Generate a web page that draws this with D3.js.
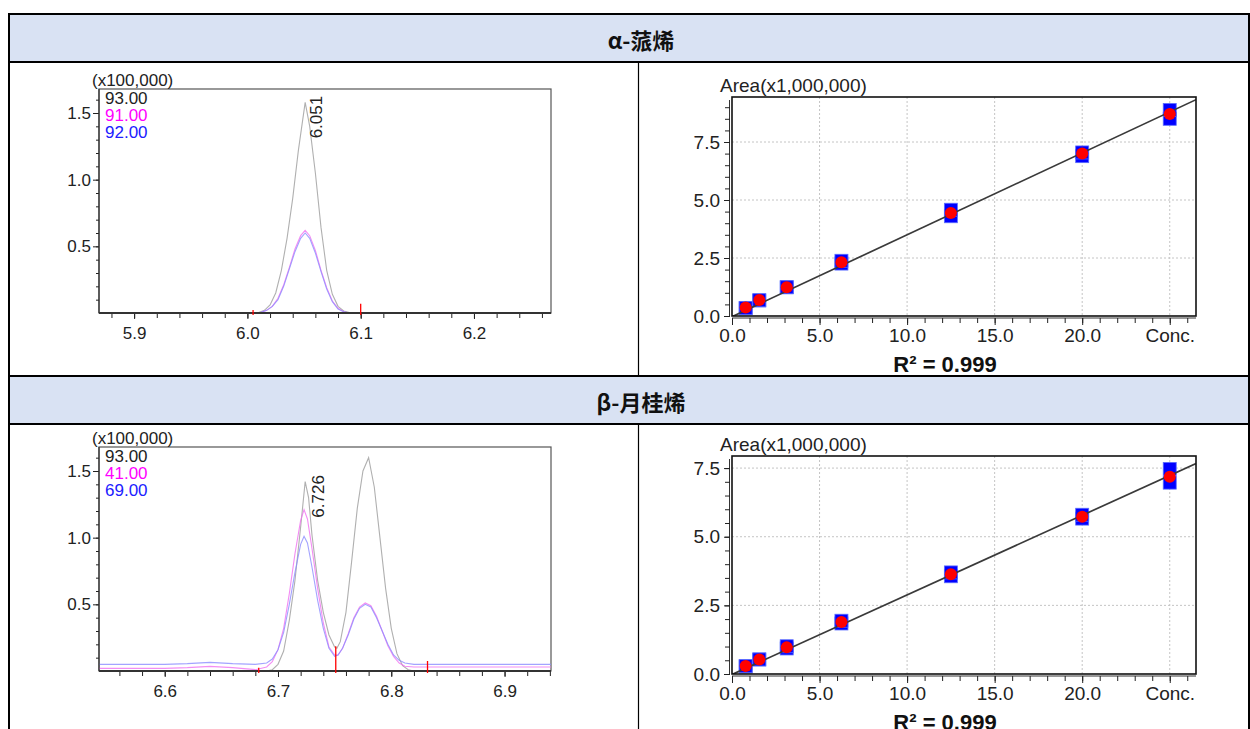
<!DOCTYPE html>
<html>
<head>
<meta charset="utf-8">
<script src="https://cdn.jsdelivr.net/npm/d3@7"></script>
<style>
  body { margin: 0; background: #fff; }
  svg { display: block; font-family: "Liberation Sans", Arial, sans-serif; }
</style>
</head>
<body>
<svg id="chart" width="1250" height="729"></svg>
<script>
// compound titles
const titles = ["α-蒎烯", "β-月桂烯"];

// chromatogram traces, [retention time, intensity x100,000]
const chrom1Ion93 = [[5.869,0],[6.000,0],[6.010,0.004],[6.015,0.02],[6.020,0.06],[6.025,0.15],[6.030,0.32],[6.035,0.56],[6.040,0.86],[6.045,1.22],[6.051,1.58],[6.055,1.40],[6.060,1.05],[6.065,0.64],[6.070,0.32],[6.075,0.14],[6.080,0.05],[6.085,0.015],[6.090,0.003],[6.100,0],[6.268,0]];
const chrom1Ion91 = [[5.869,0],[6.005,0],[6.012,0.005],[6.017,0.02],[6.022,0.05],[6.027,0.11],[6.032,0.21],[6.037,0.34],[6.042,0.48],[6.047,0.58],[6.051,0.62],[6.055,0.58],[6.060,0.47],[6.065,0.32],[6.070,0.19],[6.075,0.09],[6.080,0.035],[6.085,0.01],[6.090,0],[6.268,0]];
const chrom1Ion92 = [[5.869,0],[6.005,0],[6.012,0.005],[6.017,0.02],[6.022,0.05],[6.027,0.10],[6.032,0.20],[6.037,0.33],[6.042,0.46],[6.047,0.56],[6.051,0.60],[6.055,0.56],[6.060,0.45],[6.065,0.31],[6.070,0.18],[6.075,0.085],[6.080,0.03],[6.085,0.01],[6.090,0],[6.268,0]];
const chrom1Marks = [[6.005,0.008],[6.100,0.055]];

const chrom2Ion93 = [[6.542,0],[6.690,0],[6.695,0.01],[6.700,0.05],[6.705,0.15],[6.710,0.38],[6.715,0.68],[6.720,1.08],[6.724,1.42],[6.727,1.30],[6.730,1.02],[6.735,0.68],[6.740,0.44],[6.745,0.27],[6.750,0.18],[6.752,0.17],[6.755,0.22],[6.760,0.44],[6.765,0.82],[6.770,1.22],[6.775,1.50],[6.780,1.60],[6.785,1.38],[6.790,1.00],[6.795,0.62],[6.800,0.32],[6.805,0.13],[6.810,0.04],[6.815,0.01],[6.820,0],[6.941,0]];
const chrom2Ion41 = [[6.542,0.02],[6.600,0.02],[6.620,0.025],[6.640,0.035],[6.660,0.025],[6.680,0.01],[6.690,0.03],[6.695,0.07],[6.700,0.16],[6.705,0.32],[6.710,0.58],[6.715,0.88],[6.720,1.13],[6.723,1.21],[6.726,1.14],[6.730,0.92],[6.735,0.62],[6.740,0.36],[6.745,0.18],[6.750,0.12],[6.753,0.12],[6.757,0.17],[6.762,0.28],[6.767,0.40],[6.772,0.48],[6.777,0.51],[6.782,0.49],[6.787,0.41],[6.792,0.30],[6.797,0.19],[6.802,0.11],[6.807,0.06],[6.812,0.035],[6.820,0.03],[6.941,0.03]];
const chrom2Ion69 = [[6.542,0.05],[6.600,0.05],[6.620,0.055],[6.640,0.065],[6.660,0.055],[6.680,0.05],[6.690,0.06],[6.695,0.09],[6.700,0.16],[6.705,0.29],[6.710,0.50],[6.715,0.74],[6.720,0.95],[6.723,1.01],[6.726,0.96],[6.730,0.78],[6.735,0.53],[6.740,0.32],[6.745,0.17],[6.750,0.11],[6.753,0.12],[6.757,0.17],[6.762,0.27],[6.767,0.39],[6.772,0.47],[6.777,0.50],[6.782,0.48],[6.787,0.40],[6.792,0.30],[6.797,0.20],[6.802,0.12],[6.807,0.08],[6.812,0.06],[6.820,0.05],[6.941,0.05]];
const chrom2Marks = [[6.683,0.01],[6.751,0.17],[6.832,0.06]];

const chromYDomain = [0, 1.68];
const chromYTicks = [0.5, 1.0, 1.5];
const chrom1XDomain = [5.869, 6.268];
const chrom1XTicks = [5.9, 6.0, 6.1, 6.2];
const chrom2XDomain = [6.542, 6.941];
const chrom2XTicks = [6.6, 6.7, 6.8, 6.9];
const ions1 = ["93.00", "91.00", "92.00"];
const ions2 = ["93.00", "41.00", "69.00"];
const peaks1 = [6.051];
const peaks2 = [6.726];
const peakHeights1 = [1.58];
const peakHeights2 = [1.42];

// calibration curves (Area x1,000,000 vs Conc.)
const calConc = [0.78, 1.56, 3.125, 6.25, 12.5, 20, 25];
const cal1Mean = [0.37, 0.69, 1.24, 2.32, 4.44, 7.00, 8.71];
const cal1Reps = [[0.33,0.35],[0.67,0.68],[1.24,1.24],[2.26,2.38],[4.30,4.58],[6.89,7.05],[8.50,8.88]];
const cal2Mean = [0.29, 0.53, 0.97, 1.89, 3.63, 5.73, 7.18];
const cal2Reps = [[0.27,0.29],[0.53,0.53],[0.93,1.01],[1.84,1.94],[3.56,3.70],[5.66,5.80],[6.97,7.47]];
const cal1Fit = { slope: 0.353, intercept: -0.03, r2: "0.999" };
const cal2Fit = { slope: 0.290, intercept: -0.02, r2: "0.999" };
const calXDomain = [0, 26.5];
const calXTicks = [0, 5, 10, 15, 20, 25];
const calXLabels = ["0.0", "5.0", "10.0", "15.0", "20.0", "Conc."];
const cal1YDomain = [0, 9.44];
const cal1YTicks = [0, 2.5, 5.0, 7.5];
const cal2YDomain = [0, 7.94];
const cal2YTicks = [0, 2.5, 5.0, 7.5];

const ionColors = ["#222", "#ff00ff", "#2020ff"];
const traceColors = ["#b0b0b0", "#f070f0", "#8c8cff"];

const svg = d3.select("#chart");
svg.append("rect").attr("width", 1250).attr("height", 729).attr("fill", "#fff");

// ---- table frame ----
const headerRows = [{ y: 14, h: 48 }, { y: 376, h: 48 }];
headerRows.forEach((r, i) => {
  svg.append("rect").attr("x", 9).attr("y", r.y).attr("width", 1241).attr("height", r.h).attr("fill", "#d9e2f3");
  svg.append("text").attr("x", 641).attr("y", r.y + 25)
    .attr("text-anchor", "middle").attr("dominant-baseline", "central")
    .style("font-family", "'Noto Sans CJK SC', 'Noto Sans', sans-serif")
    .style("font-weight", 700).style("font-size", "22px").attr("fill", "#111")
    .text(titles[i]);
});
const hLines = [14, 62, 376, 424];
hLines.forEach(y => svg.append("line").attr("x1", 8).attr("x2", 1250).attr("y1", y).attr("y2", y)
  .attr("stroke", "#000").attr("stroke-width", 2));
[[9, 14, 729], [1249, 14, 729], [638.5, 62, 376], [638.5, 424, 729]].forEach(v =>
  svg.append("line").attr("x1", v[0]).attr("x2", v[0]).attr("y1", v[1]).attr("y2", v[2])
    .attr("stroke", "#000").attr("stroke-width", v[0] === 638.5 ? 1.2 : 2));

let clipId = 0;
function styleAxis(sel, color) {
  sel.select(".domain").remove();
  sel.selectAll(".tick line").attr("stroke", color || "#222");
  sel.selectAll(".tick text").attr("fill", "#222");
}

// ---- chromatogram ----
function drawChrom(box, xDomain, xTicks, traces, ions, marks, peaks, peakHeights) {
  const x = d3.scaleLinear().domain(xDomain).range([box.left, box.right]);
  const y = d3.scaleLinear().domain(chromYDomain).range([box.bottom, box.top]);
  const g = svg.append("g");
  const id = "clip" + (clipId++);
  g.append("clipPath").attr("id", id).append("rect")
    .attr("x", box.left).attr("y", box.top).attr("width", box.right - box.left).attr("height", box.bottom - box.top + 1);

  g.append("rect").attr("x", box.left).attr("y", box.top)
    .attr("width", box.right - box.left).attr("height", box.bottom - box.top)
    .attr("fill", "none").attr("stroke", "#555").attr("stroke-width", 1.2);

  const line = d3.line().x(d => x(d[0])).y(d => y(d[1]));
  const tg = g.append("g").attr("clip-path", `url(#${id})`);
  traces.forEach((tr, i) => {
    tg.append("path").datum(tr).attr("d", line).attr("fill", "none")
      .attr("stroke", traceColors[i]).attr("stroke-width", 1.1).attr("stroke-opacity", i === 0 ? 1 : 0.8);
  });

  // axes
  const fmt = d3.format(".1f");
  const yMinor = d3.range(0.1, chromYDomain[1], 0.1);
  styleAxis(g.append("g").attr("transform", `translate(${box.left},0)`)
    .call(d3.axisLeft(y).tickValues(yMinor).tickFormat("").tickSize(3)));
  const ya = g.append("g").attr("transform", `translate(${box.left},0)`)
    .call(d3.axisLeft(y).tickValues(chromYTicks).tickFormat(fmt).tickSize(6).tickPadding(2));
  styleAxis(ya);
  ya.selectAll("text").style("font-size", "17px");

  const xMinor = d3.range(Math.ceil(xDomain[0] * 50) / 50, xDomain[1], 0.02);
  styleAxis(g.append("g").attr("transform", `translate(0,${box.bottom})`)
    .call(d3.axisBottom(x).tickValues(xMinor).tickFormat("").tickSize(5)));
  const xa = g.append("g").attr("transform", `translate(0,${box.bottom})`)
    .call(d3.axisBottom(x).tickValues(xTicks).tickFormat(fmt).tickSize(6).tickPadding(8));
  styleAxis(xa);
  xa.selectAll("text").style("font-size", "17px");

  g.append("line").attr("x1", box.left).attr("x2", box.right).attr("y1", box.bottom).attr("y2", box.bottom)
    .attr("stroke", "#333").attr("stroke-width", 2);
  g.append("line").attr("x1", box.left).attr("x2", box.left).attr("y1", box.top).attr("y2", box.bottom)
    .attr("stroke", "#333").attr("stroke-width", 1.2);

  // integration marks
  g.selectAll(".mark").data(marks).join("line")
    .attr("x1", d => x(d[0])).attr("x2", d => x(d[0]))
    .attr("y1", y(0) + 2).attr("y2", d => y(d[1]) - 2)
    .attr("stroke", "#ff0000").attr("stroke-width", 1.3);

  // labels
  g.append("text").attr("x", box.left - 7).attr("y", box.top - 3)
    .style("font-size", "17px").attr("fill", "#222").text("(x100,000)");
  ions.forEach((t, i) => g.append("text").attr("x", box.left + 6).attr("y", box.top + 15 + i * 17)
    .style("font-size", "17px").attr("fill", ionColors[i]).text(t));
  peaks.forEach((p, i) => {
    const px = x(p) + 17, py = y(peakHeights[i]) + 36;
    g.append("text").attr("transform", `translate(${px},${py}) rotate(-90)`)
      .style("font-size", "17px").attr("fill", "#222").text(d3.format(".3f")(p));
  });
}

// ---- calibration ----
function drawCal(box, yDomain, yTicks, mean, reps, fit) {
  const x = d3.scaleLinear().domain(calXDomain).range([box.left, box.right]);
  const y = d3.scaleLinear().domain(yDomain).range([box.bottom, box.top]);
  const g = svg.append("g");
  const id = "clip" + (clipId++);
  g.append("clipPath").attr("id", id).append("rect")
    .attr("x", box.left).attr("y", box.top).attr("width", box.right - box.left).attr("height", box.bottom - box.top);

  // grid
  g.selectAll(".gx").data(calXTicks.slice(1)).join("line")
    .attr("x1", d => x(d)).attr("x2", d => x(d)).attr("y1", box.top).attr("y2", box.bottom)
    .attr("stroke", "#c4c4c4").attr("stroke-dasharray", "2,2");
  g.selectAll(".gy").data(yTicks.slice(1)).join("line")
    .attr("y1", d => y(d)).attr("y2", d => y(d)).attr("x1", box.left).attr("x2", box.right)
    .attr("stroke", "#c4c4c4").attr("stroke-dasharray", "2,2");

  const pg = g.append("g").attr("clip-path", `url(#${id})`);
  // replicate points (blue squares)
  const sq = 13;
  calConc.forEach((c, i) => {
    pg.selectAll(null).data(reps[i]).join("rect")
      .attr("x", x(c) - sq / 2).attr("y", d => y(d) - sq / 2)
      .attr("width", sq).attr("height", sq)
      .attr("fill", "#0000ff").attr("stroke", "#5a6cff").attr("stroke-width", 0.8);
  });
  // regression line
  const xEnd = calXDomain[1];
  pg.append("line")
    .attr("x1", x(0)).attr("y1", y(fit.intercept))
    .attr("x2", x(xEnd)).attr("y2", y(fit.slope * xEnd + fit.intercept))
    .attr("stroke", "#3a3a3a").attr("stroke-width", 1.7);
  // mean points (red)
  pg.selectAll(".mean").data(calConc).join("circle")
    .attr("cx", d => x(d)).attr("cy", (d, i) => y(mean[i])).attr("r", 6)
    .attr("fill", "#ff0000");

  g.append("rect").attr("x", box.left).attr("y", box.top)
    .attr("width", box.right - box.left).attr("height", box.bottom - box.top)
    .attr("fill", "none").attr("stroke", "#111").attr("stroke-width", 1.6);
  g.append("line").attr("x1", box.left - 2.5).attr("x2", box.left - 2.5).attr("y1", box.top + 3).attr("y2", box.bottom)
    .attr("stroke", "#333").attr("stroke-width", 1);
  g.append("line").attr("x1", box.left).attr("x2", box.right).attr("y1", box.bottom + 2).attr("y2", box.bottom + 2)
    .attr("stroke", "#333").attr("stroke-width", 1);

  const fmt = d3.format(".1f");
  const yMinor = d3.range(0.5, yDomain[1], 0.5);
  styleAxis(g.append("g").attr("transform", `translate(${box.left - 2},0)`)
    .call(d3.axisLeft(y).tickValues(yMinor).tickFormat("").tickSize(5)));
  const ya = g.append("g").attr("transform", `translate(${box.left - 2},0)`)
    .call(d3.axisLeft(y).tickValues(yTicks).tickFormat(fmt).tickSize(6).tickPadding(4));
  styleAxis(ya);
  ya.selectAll("text").style("font-size", "19px");

  const xMinor = d3.range(1, calXDomain[1], 1);
  styleAxis(g.append("g").attr("transform", `translate(0,${box.bottom + 2})`)
    .call(d3.axisBottom(x).tickValues(xMinor).tickFormat("").tickSize(5)));
  const xa = g.append("g").attr("transform", `translate(0,${box.bottom + 2})`)
    .call(d3.axisBottom(x).tickValues(calXTicks).tickFormat((d, i) => calXLabels[i]).tickSize(7).tickPadding(4));
  styleAxis(xa);
  xa.selectAll("text").style("font-size", "19px");

  g.append("text").attr("x", box.left - 12).attr("y", box.top - 5)
    .style("font-size", "19px").attr("fill", "#222").text("Area(x1,000,000)");
  g.append("text").attr("x", 945).attr("y", box.bottom + 56).attr("text-anchor", "middle")
    .style("font-size", "22px").style("font-weight", 700).attr("fill", "#111")
    .text("R² = " + fit.r2);
}

drawChrom({ left: 99, right: 551, top: 89, bottom: 313 }, chrom1XDomain, chrom1XTicks,
  [chrom1Ion93, chrom1Ion91, chrom1Ion92], ions1, chrom1Marks, peaks1, peakHeights1);
drawChrom({ left: 99, right: 551, top: 447, bottom: 671 }, chrom2XDomain, chrom2XTicks,
  [chrom2Ion93, chrom2Ion41, chrom2Ion69], ions2, chrom2Marks, peaks2, peakHeights2);
drawCal({ left: 732, right: 1196, top: 97, bottom: 316 }, cal1YDomain, cal1YTicks, cal1Mean, cal1Reps, cal1Fit);
drawCal({ left: 732, right: 1196, top: 456, bottom: 674 }, cal2YDomain, cal2YTicks, cal2Mean, cal2Reps, cal2Fit);
</script>
</body>
</html>
